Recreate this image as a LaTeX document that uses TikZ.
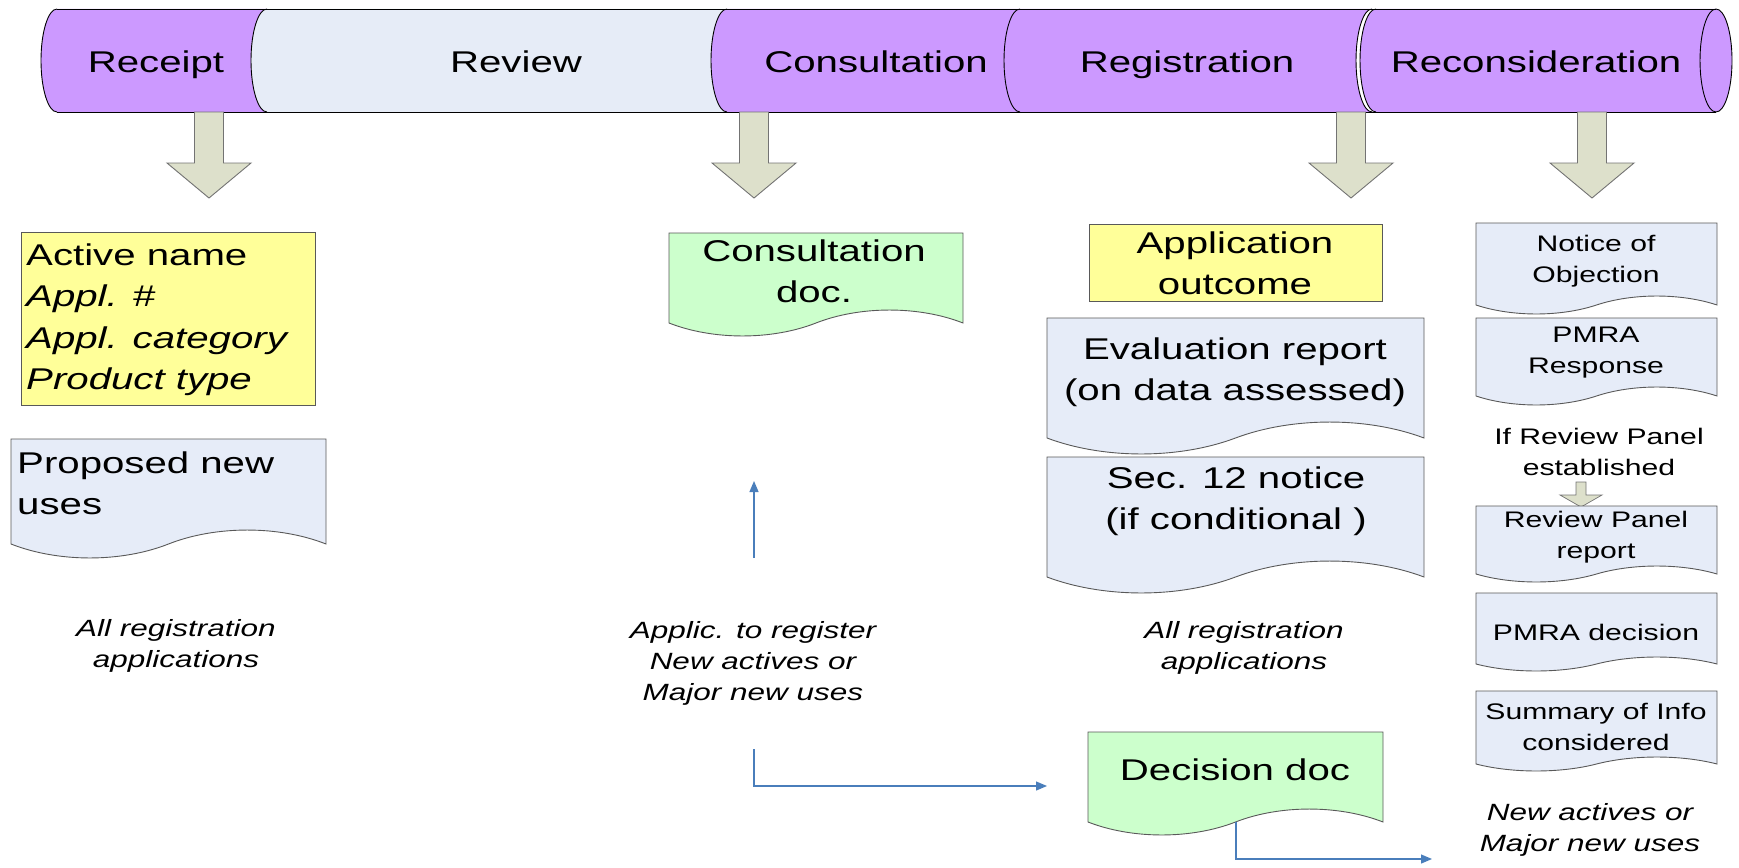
\documentclass[tikz,border=0pt]{standalone}
\usepackage{fontspec}
\setmainfont{Liberation Sans}[FakeStretch=1.34]
\usetikzlibrary{arrows.meta}
\definecolor{purp}{HTML}{CC99FF}
\definecolor{revblue}{HTML}{E6ECF7}
\definecolor{docblue}{HTML}{E6ECF8}
\definecolor{yel}{HTML}{FFFF99}
\definecolor{grn}{HTML}{CCFFCC}
\definecolor{arrfill}{HTML}{DDE0CB}
\definecolor{conn}{HTML}{4A7EBB}
\definecolor{edgegray}{HTML}{595959}
\newcommand\docshape[6]{%
 \draw[#1] (#2,#3) -- (#4,#3) -- (#4,#5)
   .. controls ({#4-0.15*(#4-#2)},{#5-1.33*#6}) and ({#4-0.35*(#4-#2)},{#5-1.33*#6}) .. ({(#2+#4)/2},#5)
   .. controls ({#2+0.35*(#4-#2)},{#5+1.33*#6}) and ({#2+0.15*(#4-#2)},{#5+1.33*#6}) .. (#2,#5) -- cycle;}
\newcommand\bandseg[3]{%
 \fill[#1] (#2,9) -- (#3,9) arc[start angle=270,end angle=90,x radius=16,y radius=51.5]
   -- (#2,112) arc[start angle=90,end angle=270,x radius=16,y radius=51.5] -- cycle;}
\tikzset{
 lab/.style={font=\fontsize{30}{41.5}\selectfont, inner sep=0pt, anchor=base, align=center},
 small/.style={font=\fontsize{22.5}{31}\selectfont, inner sep=0pt, anchor=base, align=center},
 ital/.style={font=\fontsize{23.5}{31}\selectfont\itshape, inner sep=0pt, anchor=base, align=center},
 bluedoc/.style={fill=docblue, draw=edgegray, line width=0.9pt},
 greendoc/.style={fill=grn, draw=edgegray, line width=0.9pt},
 yelbox/.style={fill=yel, draw=edgegray, line width=0.9pt},
 bigarrow/.style={fill=arrfill, draw=gray!90!black, line width=0.9pt},
 connector/.style={draw=conn, line width=1.2pt, -{Triangle[length=11pt,width=9pt]}},
}
\begin{document}
\begin{tikzpicture}[x=1pt,y=-1pt]
\useasboundingbox (0,0) rectangle (1739,867);
% ---- banner (horizontal cylinder)
\bandseg{purp}{57}{267}
\bandseg{revblue}{267}{727}
\bandseg{purp}{727}{1020}
\bandseg{purp}{1020}{1372}
\fill[purp] (1376,9) -- (1716,9) arc[start angle=-90,end angle=90,x radius=16,y radius=51.5]
   -- (1376,112) arc[start angle=90,end angle=270,x radius=16,y radius=51.5] -- cycle;
\draw[line width=0.9pt] (57,9) -- (1716,9) (57,112) -- (1716,112);
\foreach \bx in {57,267,727,1020,1372,1376}
  \draw[line width=0.9pt] (\bx,9) arc[start angle=270,end angle=90,x radius=16,y radius=51.5];
\draw[line width=0.9pt] (1716,60.5) ellipse[x radius=16,y radius=51.5];
\node[lab] (receipt) at (156,72) {Receipt};
\node[lab] (review) at (516,72) {Review};
\node[lab] (consult) at (876,72) {Consultation};
\node[lab] (regis) at (1187,72) {Registration};
\node[lab] (recon) at (1536,72) {Reconsideration};
% ---- big down arrows
\foreach \c in {209,754,1351,1592}
  \draw[bigarrow] ({\c-14.5},112) -- ({\c+14.5},112) -- ({\c+14.5},163) -- ({\c+42},163)
     -- (\c,198) -- ({\c-42},163) -- ({\c-14.5},163) -- cycle;
% ---- Receipt column (multi-line nodes: base anchor = last line's baseline)
\draw[yelbox] (21,232) rectangle (315,405);
\node[lab, align=left, anchor=base west] (active) at (26,389.5)
  {Active name\\\textit{Appl. \#}\\\textit{Appl. category}\\\textit{Product type}};
\docshape{bluedoc}{11}{439}{326}{544}{14}
\node[lab, align=left, anchor=base west] (proposed) at (17,514.5) {Proposed new\\uses};
\node[ital] (allreg1) at (176,667) {All registration\\applications};
% ---- Consultation column
\docshape{greendoc}{669}{233}{963}{323}{13}
\node[lab] (consdoc) at (814,302.5) {Consultation\\doc.};
\node[ital] (applic) at (753,700) {Applic. to register\\New actives or\\Major new uses};
\coordinate (upS) at (754,558);
\coordinate (upE) at (754,481);
\draw[connector] (upS) -- (upE);
\coordinate (c1) at (754,749);
\coordinate (c2) at (1047,786);
\draw[connector] (c1) |- (c2);
% ---- Registration column
\draw[yelbox] (1089,224) rectangle (1382,301);
\node[lab] (outcome) at (1235,294.5) {Application\\outcome};
\docshape{bluedoc}{1047}{318}{1424}{438}{16}
\node[lab] (eval) at (1235,400.5) {Evaluation report\\(on data assessed)};
\docshape{bluedoc}{1047}{457}{1424}{577}{16}
\node[lab] (sec12) at (1236,529.5) {Sec. 12 notice\\(if conditional )};
\node[ital] (allreg2) at (1244,669) {All registration\\applications};
\docshape{greendoc}{1088}{732}{1383}{822}{13}
\node[lab] (decision) at (1235,780) {Decision doc};
\coordinate (d1) at (1236,822);
\coordinate (d2) at (1432,859);
\draw[connector] (d1) |- (d2);
% ---- Reconsideration column
\docshape{bluedoc}{1476}{223}{1717}{305}{9}
\node[small] (notice) at (1596,282) {Notice of\\Objection};
\docshape{bluedoc}{1476}{318}{1717}{396}{9}
\node[small] (pmraresp) at (1596,373) {PMRA\\Response};
\node[small] (ifpanel) at (1599,475) {If Review Panel\\established};
\draw[bigarrow, line width=0.7pt] (1576,482) -- (1586,482) -- (1586,495) -- (1602,495)
   -- (1581,507) -- (1560,495) -- (1576,495) -- cycle;
\docshape{bluedoc}{1476}{506}{1717}{574}{8}
\node[small] (panelrep) at (1596,558) {Review Panel\\report};
\docshape{bluedoc}{1476}{593}{1717}{664}{7}
\node[small] (pmradec) at (1596,640) {PMRA decision};
\docshape{bluedoc}{1476}{691}{1717}{764}{7}
\node[small] (summary) at (1596,750) {Summary of Info\\considered};
\node[ital] (newact) at (1590,851) {New actives or\\Major new uses};
\end{tikzpicture}
\end{document}
